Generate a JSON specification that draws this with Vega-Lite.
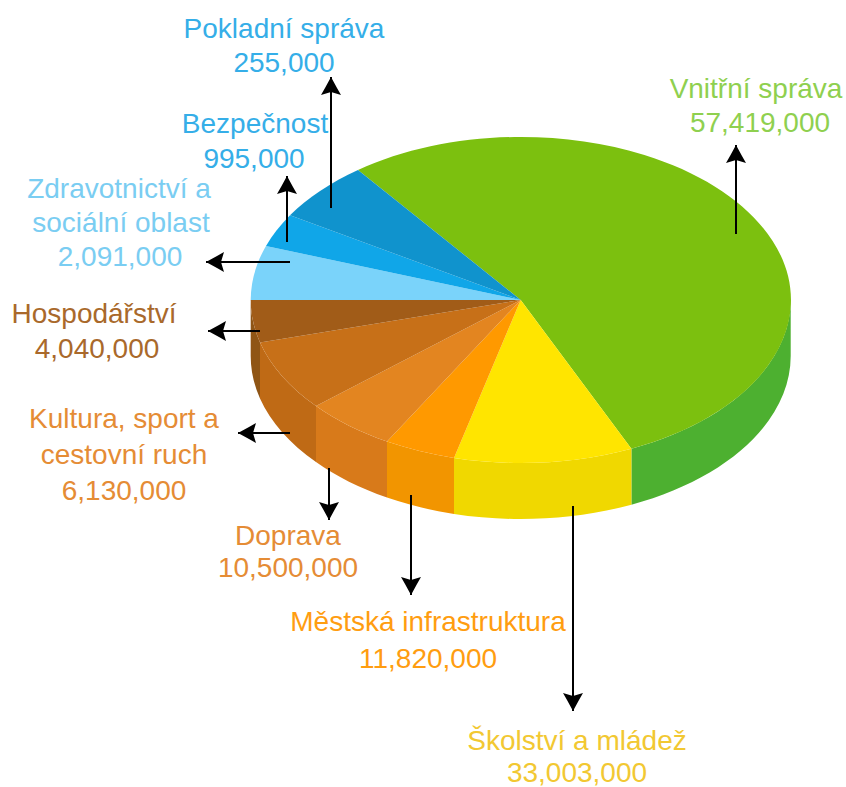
{"$schema":"https://vega.github.io/schema/vega-lite/v6.json","width":846,"height":787,"padding":0,"autosize":"none","background":"white","view":{"stroke":null},
"datasets":{
"pieces":[
{"piece":"Vnitřní správa (side)","slice":"Vnitřní správa","value":57419000},
{"piece":"Školství a mládež (side)","slice":"Školství a mládež","value":33003000},
{"piece":"Městská infrastruktura (side)","slice":"Městská infrastruktura","value":11820000},
{"piece":"Doprava (side)","slice":"Doprava","value":10500000},
{"piece":"Kultura, sport a cestovní ruch (side)","slice":"Kultura, sport a cestovní ruch","value":6130000},
{"piece":"Hospodářství (side)","slice":"Hospodářství","value":4040000},
{"piece":"Vnitřní správa","slice":"Vnitřní správa","value":57419000},
{"piece":"Školství a mládež","slice":"Školství a mládež","value":33003000},
{"piece":"Městská infrastruktura","slice":"Městská infrastruktura","value":11820000},
{"piece":"Doprava","slice":"Doprava","value":10500000},
{"piece":"Kultura, sport a cestovní ruch","slice":"Kultura, sport a cestovní ruch","value":6130000},
{"piece":"Hospodářství","slice":"Hospodářství","value":4040000},
{"piece":"Zdravotnictví a sociální oblast","slice":"Zdravotnictví a sociální oblast","value":2091000},
{"piece":"Bezpečnost","slice":"Bezpečnost","value":995000},
{"piece":"Pokladní správa","slice":"Pokladní správa","value":255000}
],
"arrows":[
{"slice":"Pokladní správa","x":331,"y":208,"tipx":331,"tipy":77,"dir":"up"},
{"slice":"Bezpečnost","x":287,"y":242,"tipx":287,"tipy":176,"dir":"up"},
{"slice":"Zdravotnictví a sociální oblast","x":290,"y":262,"tipx":206,"tipy":262,"dir":"left"},
{"slice":"Hospodářství","x":260,"y":331,"tipx":208,"tipy":331,"dir":"left"},
{"slice":"Kultura, sport a cestovní ruch","x":290,"y":433,"tipx":238,"tipy":433,"dir":"left"},
{"slice":"Doprava","x":329,"y":468,"tipx":329,"tipy":520,"dir":"down"},
{"slice":"Městská infrastruktura","x":411,"y":495,"tipx":411,"tipy":595,"dir":"down"},
{"slice":"Školství a mládež","x":573,"y":506,"tipx":573,"tipy":711,"dir":"down"},
{"slice":"Vnitřní správa","x":736,"y":234,"tipx":736,"tipy":145,"dir":"up"}
],
"labels":[
{"slice":"Pokladní správa","text":"Pokladní správa","x":284,"y":38},
{"slice":"Pokladní správa","text":"255,000","x":284,"y":72},
{"slice":"Bezpečnost","text":"Bezpečnost","x":255,"y":133},
{"slice":"Bezpečnost","text":"995,000","x":254,"y":168},
{"slice":"Zdravotnictví a sociální oblast","text":"Zdravotnictví a","x":119,"y":198},
{"slice":"Zdravotnictví a sociální oblast","text":"sociální oblast","x":121,"y":232},
{"slice":"Zdravotnictví a sociální oblast","text":"2,091,000","x":120,"y":266},
{"slice":"Hospodářství","text":"Hospodářství","x":94,"y":323},
{"slice":"Hospodářství","text":"4,040,000","x":97,"y":358},
{"slice":"Kultura, sport a cestovní ruch","text":"Kultura, sport a","x":124,"y":428},
{"slice":"Kultura, sport a cestovní ruch","text":"cestovní ruch","x":124,"y":464},
{"slice":"Kultura, sport a cestovní ruch","text":"6,130,000","x":124,"y":500},
{"slice":"Doprava","text":"Doprava","x":288,"y":545},
{"slice":"Doprava","text":"10,500,000","x":288,"y":577},
{"slice":"Městská infrastruktura","text":"Městská infrastruktura","x":428,"y":631},
{"slice":"Městská infrastruktura","text":"11,820,000","x":428,"y":668},
{"slice":"Školství a mládež","text":"Školství a mládež","x":577,"y":750},
{"slice":"Školství a mládež","text":"33,003,000","x":577,"y":782},
{"slice":"Vnitřní správa","text":"Vnitřní správa","x":756,"y":98},
{"slice":"Vnitřní správa","text":"57,419,000","x":760,"y":132}
]},
"layer":[
{"data":{"name":"pieces"},"mark":{"type":"point","filled":true,"opacity":1,"strokeWidth":0},
"encoding":{"x":{"datum":520.7,"type":"quantitative","scale":{"domain":[0,846],"nice":false,"zero":false},"axis":null},"y":{"datum":300,"type":"quantitative","scale":{"domain":[787,0],"nice":false,"zero":false},"axis":null},"size":{"value":4},
"shape":{"field":"piece","type":"nominal","legend":null,"scale":{
"domain":["Vnitřní správa (side)","Školství a mládež (side)","Městská infrastruktura (side)","Doprava (side)","Kultura, sport a cestovní ruch (side)","Hospodářství (side)","Vnitřní správa","Školství a mládež","Městská infrastruktura","Doprava","Kultura, sport a cestovní ruch","Hospodářství","Zdravotnictví a sociální oblast","Bezpečnost","Pokladní správa"],
"range":[
"M270,0L270,56A270,163,0,0,1,110.7,204.7L110.7,148.7A270,163,0,0,0,270,0Z",
"M110.7,148.7L110.7,204.7A270,163,0,0,1,-66.7,214L-66.7,158A270,163,0,0,0,110.7,148.7Z",
"M-66.7,158L-66.7,214A270,163,0,0,1,-133.7,197.6L-133.7,141.6A270,163,0,0,0,-66.7,158Z",
"M-133.7,141.6L-133.7,197.6A270,163,0,0,1,-204.7,162L-204.7,106A270,163,0,0,0,-133.7,141.6Z",
"M-204.7,106L-204.7,162A270,163,0,0,1,-260.7,98.4L-260.7,42.4A270,163,0,0,0,-204.7,106Z",
"M-260.7,42.4L-260.7,98.4A270,163,0,0,1,-270,56L-270,0A270,163,0,0,0,-260.7,42.4Z",
"M0,0L-162.7,-130A270,163,0,1,1,110.7,148.7Z",
"M0,0L110.7,148.7A270,163,0,0,1,-66.7,158Z",
"M0,0L-66.7,158A270,163,0,0,1,-133.7,141.6Z",
"M0,0L-133.7,141.6A270,163,0,0,1,-204.7,106Z",
"M0,0L-204.7,106A270,163,0,0,1,-260.7,42.4Z",
"M0,0L-260.7,42.4A270,163,0,0,1,-270,0Z",
"M0,0L-270,0A270,163,0,0,1,-254.7,-54Z",
"M0,0L-254.7,-54A270,163,0,0,1,-230.7,-84.7Z",
"M0,0L-230.7,-84.7A270,163,0,0,1,-162.7,-130Z"
]}},
"color":{"field":"piece","type":"nominal","legend":null,"scale":{
"domain":["Vnitřní správa (side)","Školství a mládež (side)","Městská infrastruktura (side)","Doprava (side)","Kultura, sport a cestovní ruch (side)","Hospodářství (side)","Vnitřní správa","Školství a mládež","Městská infrastruktura","Doprava","Kultura, sport a cestovní ruch","Hospodářství","Zdravotnictví a sociální oblast","Bezpečnost","Pokladní správa"],
"range":["#4DB030","#F0D800","#F29500","#D87A1A","#BF6A15","#8F5515","#7CC00F","#FFE500","#FF9900","#E38520","#C77018","#A15C18","#7AD3FA","#10A6E8","#1093CD"]}}}},
{"data":{"name":"arrows"},"mark":{"type":"rule","color":"black","strokeWidth":2},
"encoding":{"x":{"field":"x","type":"quantitative","scale":{"domain":[0,846],"nice":false,"zero":false},"axis":null},"y":{"field":"y","type":"quantitative","scale":{"domain":[787,0],"nice":false,"zero":false},"axis":null},"x2":{"field":"tipx"},"y2":{"field":"tipy"}}},
{"data":{"name":"arrows"},"mark":{"type":"point","filled":true,"opacity":1,"strokeWidth":0,"color":"black"},
"encoding":{"x":{"field":"tipx","type":"quantitative","scale":{"domain":[0,846],"nice":false,"zero":false},"axis":null},"y":{"field":"tipy","type":"quantitative","scale":{"domain":[787,0],"nice":false,"zero":false},"axis":null},"size":{"value":4},
"shape":{"field":"dir","type":"nominal","legend":null,"scale":{"domain":["up","down","left"],"range":[
"M0,0L6,11L10,18L0,15L-10,18L-6,11Z",
"M0,0L6,-11L10,-18L0,-15L-10,-18L-6,-11Z",
"M0,0L11,6L18,10L15,0L18,-10L11,-6Z"]}}}},
{"data":{"name":"labels"},"mark":{"type":"text","font":"Liberation Sans","fontSize":28,"align":"center","baseline":"alphabetic"},
"encoding":{"x":{"field":"x","type":"quantitative","scale":{"domain":[0,846],"nice":false,"zero":false},"axis":null},"y":{"field":"y","type":"quantitative","scale":{"domain":[787,0],"nice":false,"zero":false},"axis":null},"text":{"field":"text"},
"color":{"field":"slice","type":"nominal","legend":null,"scale":{
"domain":["Pokladní správa","Bezpečnost","Zdravotnictví a sociální oblast","Hospodářství","Kultura, sport a cestovní ruch","Doprava","Městská infrastruktura","Školství a mládež","Vnitřní správa"],
"range":["#35AEE8","#35AEE8","#7ACDF2","#A9692B","#E58C35","#E58C35","#FF9D10","#F2C832","#8FD04F"]}}}}
],
"resolve":{"scale":{"color":"independent","shape":"independent"}}}
